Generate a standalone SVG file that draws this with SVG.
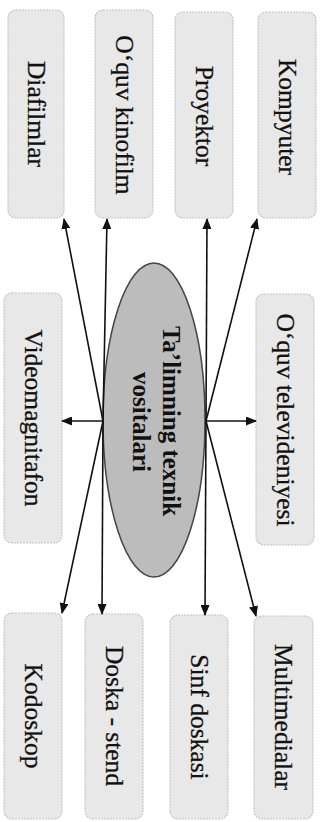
<svg xmlns="http://www.w3.org/2000/svg" width="323" height="822" viewBox="0 0 323 822">
<style>
.box{fill:#e8e8e8;stroke:#c4c4c4;stroke-width:1.2;stroke-dasharray:2 1}
.lbl{font-family:"Liberation Serif","Times New Roman",serif;font-size:25.5px;fill:#111;stroke:#111;stroke-width:0.3;text-anchor:middle}
.hub{font-family:"Liberation Serif","Times New Roman",serif;font-size:25px;font-weight:bold;fill:#111;text-anchor:middle}
.con{stroke:#111;stroke-width:1.6;fill:none;marker-end:url(#ah)}
</style>
<defs>
<marker id="ah" markerUnits="userSpaceOnUse" markerWidth="11" markerHeight="9" refX="10" refY="4.5" orient="auto">
<path d="M0,0 L11,4.5 L0,9 z" fill="#111"/>
</marker>
</defs>
<rect width="323" height="822" fill="#fff"/>
<g id="center">
<ellipse cx="154" cy="420" rx="51" ry="157" fill="#bcbcbc" stroke="#444" stroke-width="1.5"/>
<text class="hub" transform="translate(163,421) rotate(90)" x="0" y="0">Ta’limning texnik</text>
<text class="hub" transform="translate(133,422) rotate(90)" x="0" y="0">vositalari</text>
</g>
<g id="diafilmlar"><rect class="box" x="8" y="10" width="56" height="208" rx="8"/><text class="lbl" transform="translate(36,114) rotate(90)" y="8">Diafilmlar</text></g>
<g id="kinofilm"><rect class="box" x="95" y="10" width="58" height="208" rx="8"/><text class="lbl" transform="translate(124,115) rotate(90)" y="8">O‘quv kinofilm</text></g>
<g id="proyektor"><rect class="box" x="175" y="12" width="58" height="206" rx="8"/><text class="lbl" transform="translate(204,116) rotate(90)" y="8">Proyektor</text></g>
<g id="kompyuter"><rect class="box" x="258" y="12" width="58" height="206" rx="8"/><text class="lbl" transform="translate(287,117) rotate(90)" y="8">Kompyuter</text></g>
<g id="videomagnitafon"><rect class="box" x="4" y="293" width="58" height="250" rx="8"/><text class="lbl" transform="translate(33,418) rotate(90)" y="8">Videomagnitafon</text></g>
<g id="televideniyesi"><rect class="box" x="256" y="294" width="58" height="251" rx="8"/><text class="lbl" transform="translate(285,420) rotate(90)" y="8">O‘quv televideniyesi</text></g>
<g id="kodoskop"><rect class="box" x="4" y="613" width="58" height="206" rx="8"/><text class="lbl" transform="translate(33,716) rotate(90)" y="8">Kodoskop</text></g>
<g id="doska-stend"><rect class="box" x="85" y="614" width="58" height="205" rx="8"/><text class="lbl" transform="translate(114,716) rotate(90)" y="8">Doska - stend</text></g>
<g id="sinf-doskasi"><rect class="box" x="170" y="615" width="58" height="204" rx="8"/><text class="lbl" transform="translate(199,717) rotate(90)" y="8">Sinf doskasi</text></g>
<g id="multimedialar"><rect class="box" x="254" y="616" width="59" height="203" rx="8"/><text class="lbl" transform="translate(283,717) rotate(90)" y="8">Multimedialar</text></g>
<g id="connectors">
<line class="con" x1="103" y1="421" x2="64" y2="219"/>
<line class="con" x1="103" y1="421" x2="107" y2="219"/>
<line class="con" x1="103" y1="421" x2="62" y2="421"/>
<line class="con" x1="103" y1="421" x2="62" y2="613"/>
<line class="con" x1="103" y1="421" x2="102" y2="614"/>
<line class="con" x1="206" y1="421" x2="207" y2="219"/>
<line class="con" x1="206" y1="421" x2="257" y2="219"/>
<line class="con" x1="206" y1="421" x2="256" y2="421"/>
<line class="con" x1="206" y1="421" x2="205" y2="615"/>
<line class="con" x1="206" y1="421" x2="256" y2="616"/>
</g>
</svg>
